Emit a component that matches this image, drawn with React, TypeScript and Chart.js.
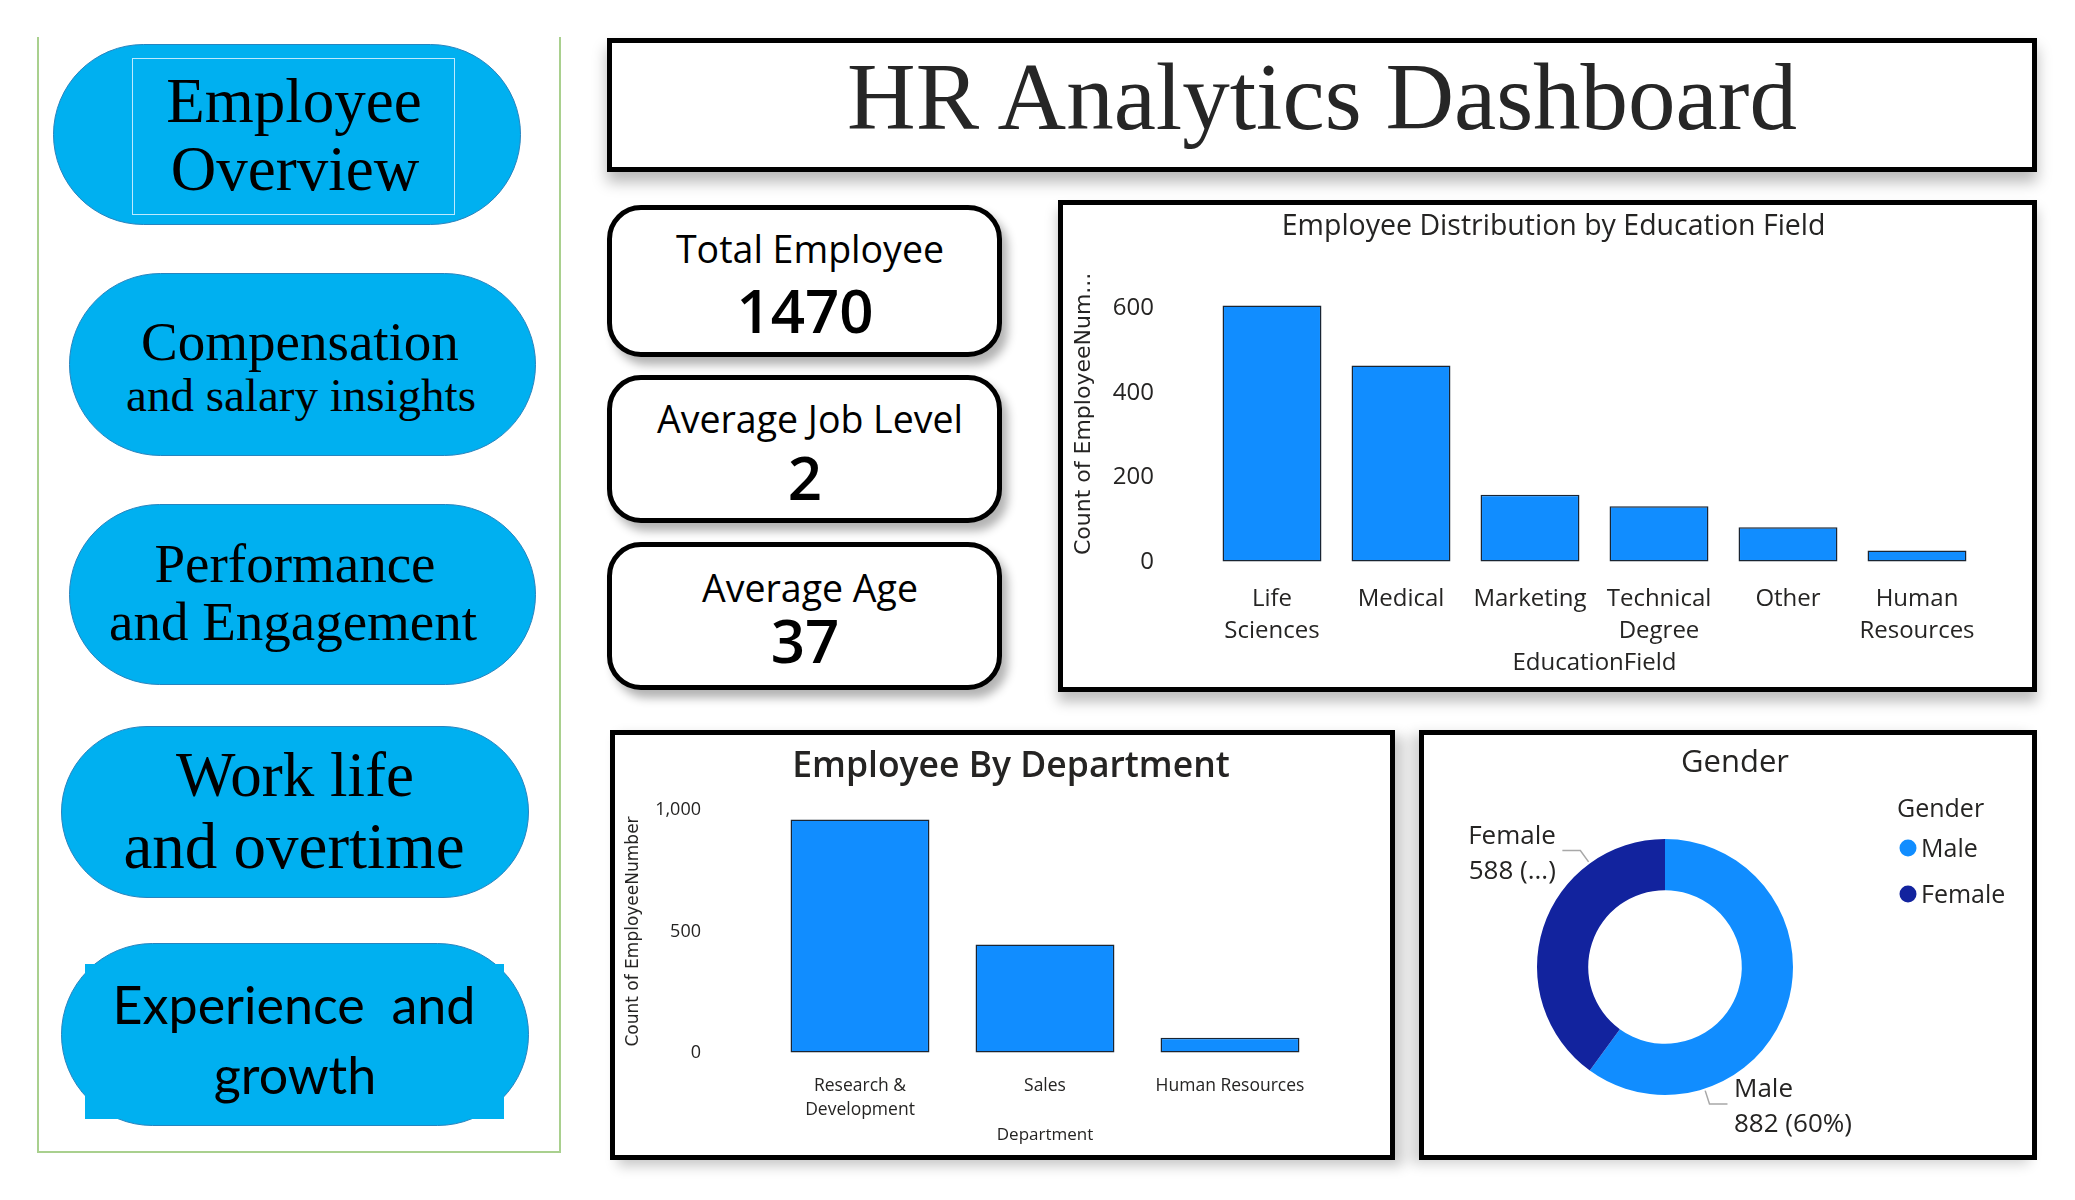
import React, { useEffect, useRef } from "react";
import { Chart, registerables } from "chart.js";

Chart.register(...registerables);

// ---------- data ----------
const kpiTitles = ["Total Employee", "Average Job Level", "Average Age"];
const kpiValues = ["1470", "2", "37"];

const educationFields = ["Life Sciences", "Medical", "Marketing", "Technical Degree", "Other", "Human Resources"];
const educationCounts = [606, 464, 159, 132, 82, 27];
const educationTicks = [0, 200, 400, 600];

const departments = ["Research & Development", "Sales", "Human Resources"];
const departmentCounts = [961, 446, 63];
const departmentTicks = [0, 500, 1000];

const genders = ["Male", "Female"];
const genderCounts = [882, 588];
const genderValueLabels = ["882 (60%)", "588 (...)"];

// ---------- styles ----------
const BLUE = "#118DFF";
const NAVY = "#12239E";
const PILL = "#00B0F0";
const TXT = "#252423";
const SANS = '"Open Sans", "Noto Sans", sans-serif';
const SERIF = '"Liberation Serif", serif';
const LATO = 'Lato, "Open Sans", sans-serif';
const K_SANS = 0.888;
const K_SERIF = 0.8375;
const K_LATO = 0.887;

function wrapLabel(s: string, max: number): string | string[] {
  const words = s.split(" ");
  const lines: string[] = [];
  let cur = "";
  for (const w of words) {
    const t = cur ? cur + " " + w : w;
    if (t.length > max && cur) {
      lines.push(cur);
      cur = w;
    } else cur = t;
  }
  lines.push(cur);
  return lines.length > 1 ? lines : lines[0];
}

// invisible tick marks used as label offset (keeps layout padding unaffected)
const hiddenTicks = (len: number) => ({
  display: true,
  drawOnChartArea: false,
  drawTicks: true,
  tickLength: len,
  tickColor: "rgba(0,0,0,0)",
});

const panelTitle = {
  id: "panelTitle",
  afterDraw(chart: any, _a: any, opts: any) {
    if (!opts || !opts.text) return;
    const ctx = chart.ctx;
    ctx.save();
    ctx.font = `${opts.weight || 400} ${opts.size}px ${SANS}`;
    ctx.fillStyle = TXT;
    ctx.textAlign = "center";
    ctx.textBaseline = "alphabetic";
    ctx.fillText(opts.text, opts.x, opts.y);
    ctx.restore();
  },
};

const donutLabels = {
  id: "donutLabels",
  afterDraw(chart: any, _a: any, opts: any) {
    const meta = chart.getDatasetMeta(0);
    const ctx = chart.ctx;
    ctx.save();
    meta.data.forEach((arc: any, i: number) => {
      const { x, y, startAngle, endAngle, outerRadius } = arc.getProps(["x", "y", "startAngle", "endAngle", "outerRadius"], true);
      const a = startAngle + 0.75 * (endAngle - startAngle);
      const c = Math.cos(a), s = Math.sin(a);
      const r1 = outerRadius + 2, r2 = r1 + 14;
      const x1 = x + c * r1, y1 = y + s * r1, x2 = x + c * r2, y2 = y + s * r2;
      const dir = c >= 0 ? 1 : -1;
      const x3 = x2 + dir * 18;
      ctx.strokeStyle = "#a8a8a8";
      ctx.lineWidth = 1.5;
      ctx.beginPath();
      ctx.moveTo(x1, y1);
      ctx.lineTo(x2, y2);
      ctx.lineTo(x3, y2);
      ctx.stroke();
      ctx.fillStyle = TXT;
      ctx.font = `400 26px ${SANS}`;
      ctx.textAlign = dir > 0 ? "left" : "right";
      ctx.textBaseline = "alphabetic";
      const tx = x3 + dir * 6.5;
      ctx.fillText(String(chart.data.labels[i]), tx, y2 - 7);
      ctx.fillText(opts.values[i], tx, y2 + 28.5);
    });
    ctx.restore();
  },
};

const sideLegend = {
  id: "sideLegend",
  afterDraw(chart: any, _a: any, opts: any) {
    const ctx = chart.ctx;
    const ds = chart.data.datasets[0];
    ctx.save();
    ctx.textAlign = "left";
    ctx.textBaseline = "alphabetic";
    ctx.fillStyle = TXT;
    ctx.font = `500 25px ${SANS}`;
    ctx.fillText(opts.title, opts.x, opts.y);
    chart.data.labels.forEach((l: string, i: number) => {
      const by = opts.y + opts.first + i * opts.step;
      ctx.fillStyle = ds.backgroundColor[i];
      ctx.beginPath();
      ctx.arc(opts.x + 11, by - 9, 8.5, 0, Math.PI * 2);
      ctx.fill();
      ctx.fillStyle = TXT;
      ctx.font = `400 25px ${SANS}`;
      ctx.fillText(l, opts.x + 24, by);
    });
    ctx.restore();
  },
};

function Txt(p: any) {
  return (
    <div
      style={{
        position: "absolute",
        left: p.x,
        top: p.b - p.k * p.size,
        transform: "translateX(-50%)",
        fontFamily: p.family,
        fontSize: p.size,
        lineHeight: `${p.size}px`,
        fontWeight: p.weight || 400,
        color: p.color || "#000",
        whiteSpace: "pre",
      }}
    >
      {p.children}
    </div>
  );
}

function Pill(p: any) {
  return (
    <div
      style={{
        position: "absolute",
        left: p.x,
        top: p.y,
        width: p.w,
        height: p.h,
        borderRadius: p.h / 2,
        background: PILL,
        border: "1.5px solid #2784bf",
        boxSizing: "border-box",
      }}
    />
  );
}

function Card(p: any) {
  return (
    <div
      style={{
        position: "absolute",
        left: p.x,
        top: p.y,
        width: p.w,
        height: p.h,
        borderRadius: 34,
        border: "5px solid #000",
        boxSizing: "border-box",
        background: "#fff",
        boxShadow: "6px 8px 10px rgba(0,0,0,0.3)",
      }}
    />
  );
}

export default function App() {
  const eduRef = useRef<HTMLCanvasElement>(null);
  const depRef = useRef<HTMLCanvasElement>(null);
  const genRef = useRef<HTMLCanvasElement>(null);

  useEffect(() => {
    const common = { responsive: false, animation: false, devicePixelRatio: 1 } as any;

    const edu = new Chart(eduRef.current as HTMLCanvasElement, {
      type: "bar",
      data: {
        labels: educationFields.map((f) => wrapLabel(f, 9)),
        datasets: [
          {
            data: educationCounts,
            backgroundColor: BLUE,
            borderColor: "#1a2533",
            borderWidth: 1.5,
            borderSkipped: false,
            categoryPercentage: 0.767,
            barPercentage: 1,
          },
        ],
      },
      options: {
        ...common,
        layout: { padding: { top: 60.7, right: 50.5, left: 0, bottom: 0 } },
        plugins: {
          legend: { display: false },
          tooltip: { enabled: false },
          panelTitle: { text: "Employee Distribution by Education Field", x: 490.6, y: 30, size: 28.5, weight: 400 },
        },
        scales: {
          x: {
            grid: hiddenTicks(20.5),
            border: { display: false },
            ticks: { font: { family: SANS, size: 24, lineHeight: 1.36 }, color: TXT, padding: 0, maxRotation: 0, autoSkip: false },
            title: { display: true, text: "EducationField", font: { family: SANS, size: 24, lineHeight: 1.2 }, color: TXT, padding: { top: 0, bottom: 9.6 } },
            afterFit: (s: any) => { s.height = 125; },
          },
          y: {
            min: 0,
            max: 700,
            grid: hiddenTicks(53.5),
            border: { display: false },
            afterBuildTicks: (s: any) => { s.ticks = educationTicks.map((v) => ({ value: v })); },
            ticks: { font: { family: SANS, size: 24 }, color: TXT, padding: 0 },
            title: { display: true, text: "Count of EmployeeNum...", font: { family: '"DejaVu Sans", sans-serif', size: 22, lineHeight: 1.2 }, color: TXT, padding: { top: 7.8, bottom: 0 } },
            afterFit: (s: any) => { s.width = 144.5; },
          },
        },
      } as any,
      plugins: [panelTitle],
    });

    const dep = new Chart(depRef.current as HTMLCanvasElement, {
      type: "bar",
      data: {
        labels: departments.map((d) => wrapLabel(d, 15)),
        datasets: [
          {
            data: departmentCounts,
            backgroundColor: BLUE,
            borderColor: "#1a2533",
            borderWidth: 1.5,
            borderSkipped: false,
            categoryPercentage: 0.751,
            barPercentage: 1,
          },
        ],
      },
      options: {
        ...common,
        layout: { padding: { top: 75, right: 67.5, left: 0, bottom: 0 } },
        plugins: {
          legend: { display: false },
          tooltip: { enabled: false },
          panelTitle: { text: "Employee By Department", x: 396, y: 42, size: 35.5, weight: 600 },
        },
        scales: {
          x: {
            grid: hiddenTicks(21),
            border: { display: false },
            ticks: { font: { family: SANS, size: 17.5, lineHeight: 24 / 17.5 }, color: TXT, padding: 0, maxRotation: 0, autoSkip: false },
            title: { display: true, text: "Department", font: { family: SANS, size: 17, lineHeight: 1.2 }, color: TXT, padding: { top: 0, bottom: 9.8 } },
            afterFit: (s: any) => { s.height = 102; },
          },
          y: {
            min: 0,
            max: 1000,
            grid: hiddenTicks(66.5),
            border: { display: false },
            afterBuildTicks: (s: any) => { s.ticks = departmentTicks.map((v) => ({ value: v })); },
            ticks: { font: { family: SANS, size: 18 }, color: TXT, padding: 0 },
            title: { display: true, text: "Count of EmployeeNumber", font: { family: '"DejaVu Sans", sans-serif', size: 17, lineHeight: 1.2 }, color: TXT, padding: { top: 8.8, bottom: 0 } },
            afterFit: (s: any) => { s.width = 152.5; },
          },
        },
      } as any,
      plugins: [panelTitle],
    });

    const gen = new Chart(genRef.current as HTMLCanvasElement, {
      type: "doughnut",
      data: {
        labels: genders,
        datasets: [{ data: genderCounts, backgroundColor: [BLUE, NAVY], borderWidth: 0, hoverOffset: 0, offset: 0 }],
      },
      options: {
        ...common,
        cutout: "60%",
        layout: { padding: { left: 113, right: 239, top: 104, bottom: 60 } },
        plugins: {
          legend: { display: false },
          tooltip: { enabled: false },
          panelTitle: { text: "Gender", x: 311, y: 36.7, size: 31, weight: 500 },
          donutLabels: { values: genderValueLabels },
          sideLegend: { title: "Gender", x: 473, y: 82, first: 40, step: 46 },
        },
      } as any,
      plugins: [panelTitle, donutLabels, sideLegend],
    });

    return () => {
      edu.destroy();
      dep.destroy();
      gen.destroy();
    };
  }, []);

  const box = (l: number, t: number, w: number, h: number, shadow: string): React.CSSProperties => ({
    position: "absolute",
    left: l,
    top: t,
    width: w,
    height: h,
    border: "5px solid #000",
    boxSizing: "border-box",
    background: "#fff",
    boxShadow: shadow,
  });

  return (
    <div style={{ position: "absolute", left: 0, top: 0, width: 2075, height: 1200, background: "#fff", overflow: "hidden" }}>
      {/* left navigation panel */}
      <div
        style={{
          position: "absolute",
          left: 37,
          top: 37,
          width: 524,
          height: 1116,
          borderLeft: "2px solid #a9d08e",
          borderRight: "2px solid #a9d08e",
          borderBottom: "2px solid #a9d08e",
          boxSizing: "border-box",
        }}
      />
      <Pill x={53} y={44} w={468} h={181} />
      <div style={{ position: "absolute", left: 132, top: 58, width: 323, height: 157, border: "1px solid rgba(210,240,255,0.9)", boxSizing: "border-box" }} />
      <Txt x={294} b={122.5} size={63} family={SERIF} k={K_SERIF}>Employee</Txt>
      <Txt x={295} b={191} size={63} family={SERIF} k={K_SERIF}>Overview</Txt>

      <Pill x={69} y={273} w={467} h={183} />
      <Txt x={300} b={360} size={55} family={SERIF} k={K_SERIF}>Compensation</Txt>
      <Txt x={301} b={411} size={47} family={SERIF} k={K_SERIF}>and salary insights</Txt>

      <Pill x={69} y={504} w={467} h={181} />
      <Txt x={295} b={582} size={55} family={SERIF} k={K_SERIF}>Performance</Txt>
      <Txt x={293} b={640} size={55} family={SERIF} k={K_SERIF}>and Engagement</Txt>

      <Pill x={61} y={726} w={468} h={172} />
      <Txt x={295} b={797} size={63} family={SERIF} k={K_SERIF}>Work life</Txt>
      <Txt x={294} b={868} size={65} family={SERIF} k={K_SERIF}>and overtime</Txt>

      <Pill x={61} y={943} w={468} h={183} />
      <div style={{ position: "absolute", left: 85, top: 964, width: 419, height: 155, background: PILL }} />
      <Txt x={294} b={1024} size={52} family={LATO} k={K_LATO}>{"Experience  and"}</Txt>
      <Txt x={295} b={1094} size={52} family={LATO} k={K_LATO}>growth</Txt>

      {/* header */}
      <div style={box(607, 38, 1430, 134, "0 10px 14px rgba(0,0,0,0.28)")} />
      <Txt x={1322} b={130} size={95} family={SERIF} k={K_SERIF} color="#262626">HR Analytics Dashboard</Txt>

      {/* KPI cards */}
      <Card x={607} y={205} w={395} h={152} />
      <Txt x={810} b={263} size={37.5} family={SANS} k={K_SANS} weight={500}>{kpiTitles[0]}</Txt>
      <Txt x={805} b={333} size={60} family={SANS} k={K_SANS} weight={600}>{kpiValues[0]}</Txt>

      <Card x={607} y={375} w={395} h={148} />
      <Txt x={810} b={433} size={37.5} family={SANS} k={K_SANS} weight={500}>{kpiTitles[1]}</Txt>
      <Txt x={805} b={500} size={60} family={SANS} k={K_SANS} weight={600}>{kpiValues[1]}</Txt>

      <Card x={607} y={542} w={395} h={148} />
      <Txt x={810} b={602} size={37.5} family={SANS} k={K_SANS} weight={500}>{kpiTitles[2]}</Txt>
      <Txt x={805} b={663} size={60} family={SANS} k={K_SANS} weight={600}>{kpiValues[2]}</Txt>

      {/* charts */}
      <div style={box(1058, 200, 979, 492, "0 10px 12px rgba(0,0,0,0.25)")}>
        <canvas ref={eduRef} width={969} height={482} style={{ position: "absolute", left: 0, top: 0 }} />
      </div>
      <div style={box(610, 730, 785, 430, "8px 6px 12px rgba(0,0,0,0.22)")}>
        <canvas ref={depRef} width={775} height={420} style={{ position: "absolute", left: 0, top: 0 }} />
      </div>
      <div style={box(1419, 730, 618, 430, "-8px 4px 12px rgba(0,0,0,0.18)")}>
        <canvas ref={genRef} width={608} height={420} style={{ position: "absolute", left: 0, top: 0 }} />
      </div>
    </div>
  );
}
